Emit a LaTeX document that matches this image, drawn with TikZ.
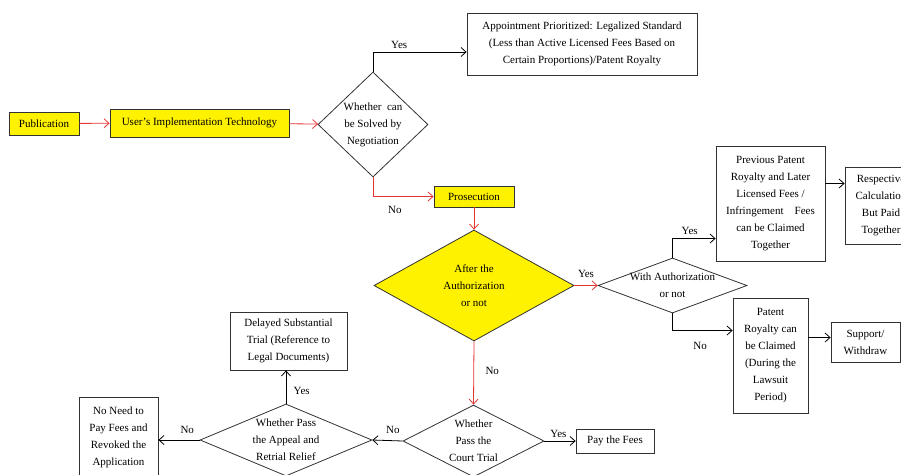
\documentclass[tikz,border=0pt]{standalone}
\usepackage{fontspec}
\setmainfont{Liberation Serif}
\usetikzlibrary{shapes.geometric, arrows.meta}
\definecolor{flowred}{RGB}{228,52,52}
\definecolor{boxline}{RGB}{50,50,50}
\tikzset{
  box/.style={draw=boxline, line width=0.8pt, align=center, inner sep=0pt},
  ybox/.style={box, fill=yellow},
  dec/.style={diamond, draw=boxline, line width=0.8pt, inner sep=0pt},
  arr/.style={-{Straight Barb[length=5pt, width=9pt]}, line width=0.8pt, black},
  rarr/.style={arr, flowred},
}
\begin{document}
\begin{tikzpicture}[x=1pt, y=-1pt, font=\fontsize{11}{17}\selectfont]
        \useasboundingbox (0,0) rectangle (901,474);
        \clip (0,0) rectangle (901,474);

        \node[ybox, minimum width=70, minimum height=23] (pub) at (44,123.5) {Publication};
        \node[ybox, minimum width=179, minimum height=28] (user) at (199.5,123) {User's Implementation Technology};
        \node[dec, minimum width=110, minimum height=105,
              label={[align=center]center:Whether\ \ can\\be Solved by\\Negotiation}] (neg) at (373,124.5) {};
        \node[box, minimum width=230, minimum height=62] (appt) at (582,44)
              {Appointment Prioritized: Legalized Standard\\(Less than Active Licensed Fees Based on\\Certain Proportions)/Patent Royalty};
        \node[ybox, minimum width=80, minimum height=21] (pros) at (474,196.5) {Prosecution};
        \node[dec, fill=yellow, minimum width=200, minimum height=111,
              label={[align=center]center:After the\\Authorization\\or not}] (after) at (474,285.5) {};
        \node[dec, minimum width=149, minimum height=55,
              label={[align=center]center:With Authorization\\or not}] (auth) at (672.5,285.5) {};
        \node[box, minimum width=109, minimum height=115] (prev) at (770.5,203.5)
              {Previous Patent\\Royalty and Later\\Licensed Fees /\\Infringement\quad Fees\\can be Claimed\\Together};
        \node[box, minimum width=72, minimum height=77] (resp) at (881,205.5)
              {Respective\\Calculation\\But Paid\\Together};
        \node[box, minimum width=75, minimum height=115] (pat) at (770.5,355.5)
              {Patent\\Royalty can\\be Claimed\\(During the\\Lawsuit\\Period)};
        \node[box, minimum width=69, minimum height=40] (sup) at (865.5,342) {Support/\\Withdraw};
        \node[dec, minimum width=141, minimum height=72,
              label={[align=center]center:Whether\\Pass the\\Court Trial}] (court) at (473.5,441) {};
        \node[box, minimum width=78, minimum height=24] (pay) at (615,441) {Pay the Fees};
        \node[dec, minimum width=172, minimum height=72,
              label={[align=center]center:Whether Pass\\the Appeal and\\Retrial Relief}] (appeal) at (286,440) {};
        \node[box, minimum width=117, minimum height=58] (delayed) at (288.5,341)
              {Delayed Substantial\\Trial (Reference to\\Legal Documents)};
        \node[box, minimum width=79, minimum height=80] (noneed) at (118.5,437)
              {No Need to\\Pay Fees and\\Revoked the\\Application};

        % main flow
        \draw[rarr] (pub) -- (user);
        \draw[rarr] (user) -- (neg);
        \draw[arr] (neg.north) |- node[pos=0.64, above]{Yes} ([yshift=-8pt]appt.west);
        \draw[rarr] (neg.south) |- node[pos=0.68, below=6pt, black]{No} (pros.west);
        \draw[rarr] (pros) -- (after);
        \draw[rarr] (after.east) -- node[above=4pt, black]{Yes} (auth.west);
        \draw[rarr] (after.south) -- node[pos=0.47, right=8pt, black]{No} (court.north);

        % authorization branch
        \draw[arr] (auth.north) |- node[pos=0.7, above]{Yes} ([yshift=-35pt]prev.west);
        \draw[arr] (auth.south) |- node[pos=0.73, below=8pt]{No} ([yshift=25pt]pat.west);
        \draw[arr] ([yshift=20pt]prev.east) -- ([yshift=20pt]prev.east -| resp.west);
        \draw[arr] ([yshift=18pt]pat.east) -- ([yshift=18pt]pat.east -| sup.west);

        % trial branch
        \draw[arr] (court.east) -- node[pos=0.45, above]{Yes} (pay.west);
        \draw[arr] (court.west) -- node[pos=0.32, above=3pt]{No} (appeal.east);
        \draw[arr] (appeal.north) -- node[pos=0.38, right=4pt]{Yes} (appeal.north |- delayed.south);
        \draw[arr] (appeal.west) -- node[pos=0.3, above=3pt]{No} (appeal.west -| noneed.east);
      \end{tikzpicture}
\end{document}
